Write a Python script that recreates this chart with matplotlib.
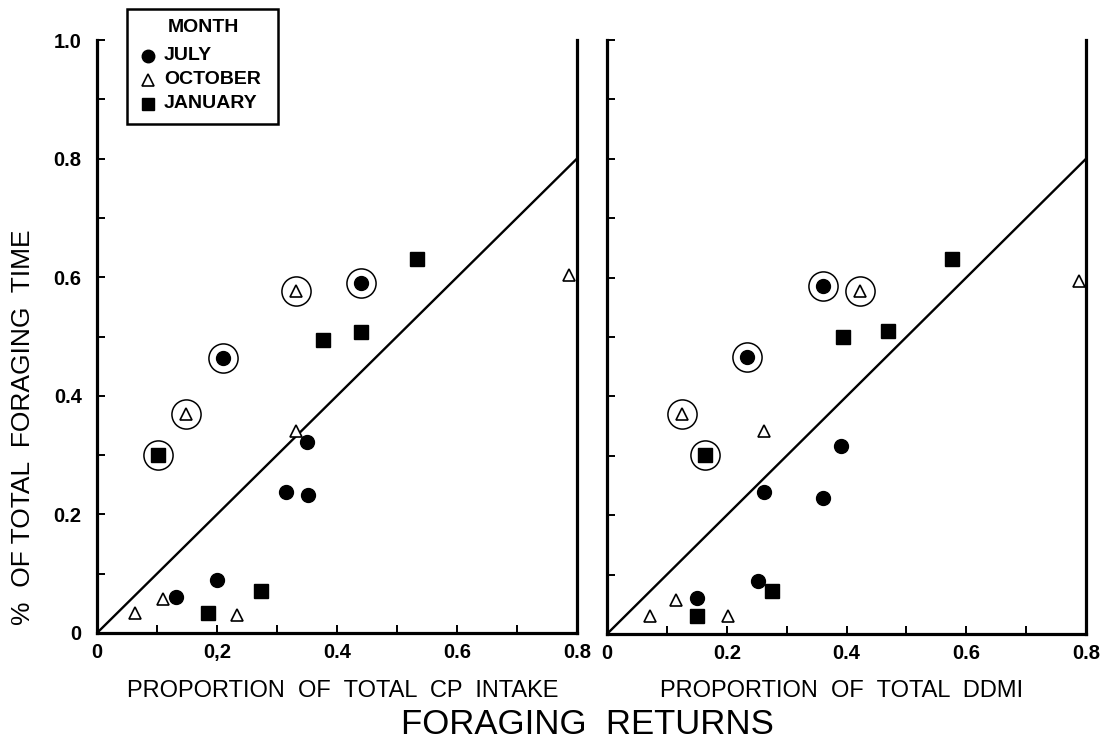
import numpy as np
import matplotlib
matplotlib.use("Agg")
import matplotlib.pyplot as plt
from matplotlib.lines import Line2D
from matplotlib.patches import Rectangle

plt.rcParams['font.family'] = ['Liberation Sans', 'DejaVu Sans']

# ---------------- data ----------------
months = ["JULY", "OCTOBER", "JANUARY"]
legend_title = "MONTH"

# Left panel: proportion of total CP intake
cp_jul_x = [0.44, 0.21, 0.35, 0.315, 0.352, 0.20, 0.132]
cp_jul_y = [0.59, 0.463, 0.322, 0.238, 0.233, 0.09, 0.06]
cp_jul_circled = [True, True, False, False, False, False, False]

cp_oct_x = [0.331, 0.787, 0.148, 0.331, 0.11, 0.063, 0.233]
cp_oct_y = [0.576, 0.603, 0.369, 0.341, 0.058, 0.033, 0.030]
cp_oct_circled = [True, False, True, False, False, False, False]

cp_jan_x = [0.534, 0.376, 0.44, 0.102, 0.273, 0.185]
cp_jan_y = [0.631, 0.494, 0.507, 0.301, 0.071, 0.033]
cp_jan_circled = [False, False, False, True, False, False]

# Right panel: proportion of total DDMI
dd_jul_x = [0.36, 0.234, 0.391, 0.262, 0.361, 0.253, 0.151]
dd_jul_y = [0.586, 0.466, 0.317, 0.239, 0.229, 0.089, 0.061]
dd_jul_circled = [True, True, False, False, False, False, False]

dd_oct_x = [0.423, 0.789, 0.125, 0.262, 0.115, 0.072, 0.202]
dd_oct_y = [0.577, 0.595, 0.371, 0.341, 0.058, 0.030, 0.030]
dd_oct_circled = [True, False, True, False, False, False, False]

dd_jan_x = [0.577, 0.394, 0.47, 0.164, 0.276, 0.151]
dd_jan_y = [0.631, 0.50, 0.51, 0.301, 0.072, 0.031]
dd_jan_circled = [False, False, False, True, False, False]

# 1:1 reference line
line_x = [0.0, 0.8]
line_y = [0.0, 0.8]

x_ticks = [0.0, 0.1, 0.2, 0.3, 0.4, 0.5, 0.6, 0.7, 0.8]
x_ticklabels_left = ["0", "", "0,2", "", "0.4", "", "0.6", "", "0.8"]
x_ticklabels_right = ["0", "", "0.2", "", "0.4", "", "0.6", "", "0.8"]
y_ticks = [0.0, 0.1, 0.2, 0.3, 0.4, 0.5, 0.6, 0.7, 0.8, 0.9, 1.0]
y_ticklabels = ["0", "", "0.2", "", "0.4", "", "0.6", "", "0.8", "", "1.0"]

ylabel = "%  OF TOTAL  FORAGING  TIME"
xlabel_left = "PROPORTION  OF  TOTAL  CP  INTAKE"
xlabel_right = "PROPORTION  OF  TOTAL  DDMI"
suptitle = "FORAGING  RETURNS"

# ---------------- figure ----------------
W, H = 1106, 744
fig = plt.figure(figsize=(W / 100, H / 100), dpi=100)
fig.patch.set_facecolor("white")

ax1 = fig.add_axes([97 / W, 1 - 633 / H, 480 / W, 593 / H])
ax2 = fig.add_axes([607 / W, 1 - 634 / H, 479 / W, 594 / H])

styles = {
    "JULY": dict(marker="o", ms=10, mfc="black", mec="black", mew=1.0),
    "OCTOBER": dict(marker="^", ms=9, mfc="white", mec="black", mew=1.2),
    "JANUARY": dict(marker="s", ms=10, mfc="black", mec="black", mew=1.0),
}

def draw_panel(ax, series, xticklabels, show_y):
    ax.plot(line_x, line_y, color="black", lw=1.7, solid_capstyle="butt",
            zorder=2, clip_on=False)
    for name, xs, ys, circ in series:
        xs = np.asarray(xs); ys = np.asarray(ys); circ = np.asarray(circ)
        ax.plot(xs, ys, ls="none", zorder=4, clip_on=False, **styles[name])
        if circ.any():
            ax.plot(xs[circ], ys[circ], ls="none", marker="o", ms=21,
                    mfc="none", mec="black", mew=1.1, zorder=3, clip_on=False)
    ax.set_xlim(0, 0.8)
    ax.set_ylim(0, 1.0)
    ax.set_xticks(x_ticks)
    ax.set_xticklabels(xticklabels)
    ax.set_yticks(y_ticks)
    if show_y:
        ax.set_yticklabels(y_ticklabels)
    else:
        ax.set_yticklabels([""] * len(y_ticks))
    ax.spines["top"].set_visible(False)
    for s in ("left", "right", "bottom"):
        ax.spines[s].set_linewidth(2.3)
        ax.spines[s].set_color("black")
    ax.tick_params(axis="both", direction="in", length=6, width=1.4,
                   colors="black", labelsize=14.5)
    ax.tick_params(axis="x", pad=7)
    ax.tick_params(axis="y", pad=11)
    for lbl in ax.get_xticklabels() + ax.get_yticklabels():
        lbl.set_fontweight("bold")

draw_panel(ax1, [("JULY", cp_jul_x, cp_jul_y, cp_jul_circled),
                 ("OCTOBER", cp_oct_x, cp_oct_y, cp_oct_circled),
                 ("JANUARY", cp_jan_x, cp_jan_y, cp_jan_circled)],
           x_ticklabels_left, True)
draw_panel(ax2, [("JULY", dd_jul_x, dd_jul_y, dd_jul_circled),
                 ("OCTOBER", dd_oct_x, dd_oct_y, dd_oct_circled),
                 ("JANUARY", dd_jan_x, dd_jan_y, dd_jan_circled)],
           x_ticklabels_right, False)

# axis labels
fig.text(23 / W, 1 - 427 / H, ylabel, rotation=90, ha="center", va="center",
         fontsize=19)
fig.text(343 / W, 1 - 691 / H, xlabel_left, ha="center", va="center",
         fontsize=17)
fig.text(842 / W, 1 - 691 / H, xlabel_right, ha="center", va="center",
         fontsize=17)
fig.text(587 / W, 1 - 724 / H, suptitle, ha="center", va="center",
         fontsize=25)

# legend box (drawn as a framed key in figure pixels)
def fx(px):
    return px / W

def fy(py):
    return 1 - py / H

fig.add_artist(Rectangle((fx(127), fy(124)), fx(278) - fx(127), fy(9) - fy(124),
                         transform=fig.transFigure, fill=True, fc="white",
                         ec="black", lw=1.8, zorder=10))
fig.text(fx(203), fy(27), legend_title, ha="center", va="center",
         fontsize=14, fontweight="bold", zorder=11)
legend_rows_px = [56, 80, 104]
for m, ypx in zip(months, legend_rows_px):
    st = dict(styles[m])
    st["ms"] = 9 if m != "OCTOBER" else 8.5
    fig.add_artist(Line2D([fx(148)], [fy(ypx)], transform=fig.transFigure,
                          ls="none", zorder=11, **st))
    fig.text(fx(164), fy(ypx), m, ha="left", va="center", fontsize=14,
             fontweight="bold", zorder=11)

fig.savefig("out.png", dpi=100, facecolor="white")
